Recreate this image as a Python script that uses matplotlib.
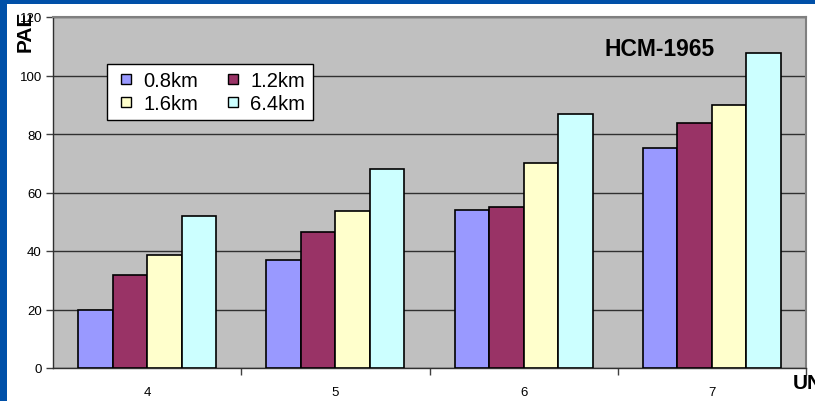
import matplotlib
matplotlib.use("Agg")
import matplotlib.pyplot as plt
from matplotlib.patches import Rectangle
from matplotlib.lines import Line2D
import numpy as np

plt.rcParams['font.family'] = ['Liberation Sans', 'DejaVu Sans']

categories = ["4", "5", "6", "7"]
series_names = ["0.8km", "1.2km", "1.6km", "6.4km"]
vals_08 = [20, 37, 54, 75.3]
vals_12 = [31.7, 46.5, 55, 83.6]
vals_16 = [38.8, 53.8, 70, 90]
vals_64 = [51.9, 68, 86.8, 107.6]
y_ticks = [0, 20, 40, 60, 80, 100, 120]

colors = ["#9999FF", "#993366", "#FFFFCC", "#CCFFFF"]
series = [vals_08, vals_12, vals_16, vals_64]

W, H = 815, 402
fig = plt.figure(figsize=(W / 100, H / 100), dpi=100)
fig.patch.set_facecolor("white")

# dark blue frame strips on the left and top
fig.patches.append(Rectangle((0, 0), 7 / W, 1, transform=fig.transFigure,
                             facecolor="#0050A8", edgecolor="none", zorder=0))
fig.patches.append(Rectangle((0, 1 - 5 / H), 1, 5 / H, transform=fig.transFigure,
                             facecolor="#0050A8", edgecolor="none", zorder=0))

ax = fig.add_axes([53 / W, (H - 369) / H, (806 - 53) / W, (369 - 18) / H])
ax.set_facecolor("#C0C0C0")

x = np.arange(len(categories))
bw = 0.183
for i, (vals, c, name) in enumerate(zip(series, colors, series_names)):
    ax.bar(x + (i - 1.5) * bw, vals, width=bw, color=c, edgecolor="black",
           linewidth=1.2, label=name, zorder=3)

ax.set_xlim(-0.5, len(categories) - 0.5)
ax.set_ylim(0, 120)
ax.set_yticks(y_ticks)
ax.set_yticklabels([str(v) for v in y_ticks], fontsize=9.5)
ax.set_xticks(x)
ax.set_xticklabels(categories, fontsize=9.5)
ax.set_xticks(np.arange(0.5, len(categories) - 0.5 + 0.01, 1.0), minor=True)
ax.tick_params(axis="x", which="major", length=0, pad=13)
ax.tick_params(axis="x", which="minor", length=5, width=1, color="#404040", direction="out")
ax.tick_params(axis="y", length=5, width=1, color="#404040", pad=3)
ax.grid(axis="y", color="#303030", linewidth=1, zorder=1)
ax.set_axisbelow(True)

for s in ["left", "bottom"]:
    ax.spines[s].set_color("#303030")
    ax.spines[s].set_linewidth(1)
for s in ["top", "right"]:
    ax.spines[s].set_color("#808080")
    ax.spines[s].set_linewidth(1.5)

# small square swatches, legend filled row by row
swatches = [Line2D([], [], linestyle="none", marker="s", markersize=7.5,
                   markerfacecolor=c, markeredgecolor="black", markeredgewidth=1)
            for c in colors]
order = [0, 2, 1, 3]
leg = ax.legend([swatches[k] for k in order], [series_names[k] for k in order],
                ncol=2, loc="upper left",
                bbox_to_anchor=((107 - 53) / (806 - 53), 1 - (65 - 18) / (369 - 18)),
                frameon=True, fancybox=False, edgecolor="black", facecolor="white",
                framealpha=1, fontsize=14.5, handlelength=1.2,
                handletextpad=0.25, columnspacing=1.15, borderpad=0.35,
                labelspacing=0.2, borderaxespad=0)
leg.get_frame().set_linewidth(1)

ax.text((660 - 53) / (806 - 53), 1 - (49 - 18) / (369 - 18), "HCM-1965",
        transform=ax.transAxes, fontsize=16.5, fontweight="bold",
        ha="center", va="center")

fig.text(25 / W, 1 - 31 / H, "PAE", rotation=90, fontsize=15, fontweight="bold",
         ha="center", va="center")
fig.text(793 / W, 1 - 384 / H, "UN", fontsize=15, fontweight="bold",
         ha="left", va="center")

fig.savefig("out.png", dpi=100, facecolor=fig.get_facecolor())
